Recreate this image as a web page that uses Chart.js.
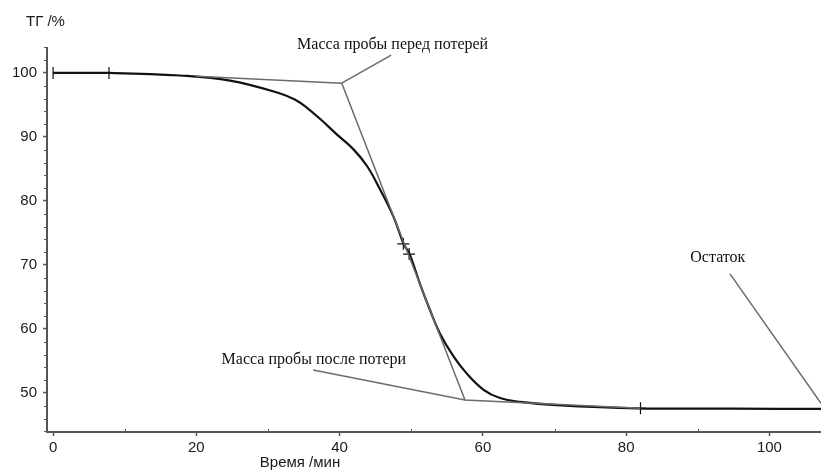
<!DOCTYPE html>
<html>
<head>
<meta charset="utf-8">
<script src="https://cdn.jsdelivr.net/npm/chart.js@4.4.1/dist/chart.umd.min.js"></script>
<style>
  html, body { margin: 0; padding: 0; background: #fff; }
</style>
</head>
<body>
<canvas id="tg" width="821" height="471"></canvas>
<script>
// TG curve: time (min) vs mass (%)
const timeMin = [0, 7.8, 17.7, 24.7, 31.7, 33.8, 35.4, 37.3, 39.6, 41.9, 43.8, 45.6, 47.5, 48.9, 49.8, 51.2, 52.6, 54.0, 55.9, 57.7, 60.1, 62.4, 65.2, 70.3, 81.5, 95, 107.2];
const massPct = [100, 100, 99.6, 98.8, 96.8, 95.8, 94.6, 92.8, 90.4, 88.1, 85.5, 81.9, 77.6, 73.4, 71.6, 67.1, 63.0, 59.3, 55.7, 53.1, 50.5, 49.2, 48.6, 48.1, 47.6, 47.55, 47.5];

// "+" markers on the curve
const markX = [0, 7.8, 48.9, 49.7, 82.0];
const markY = [100, 100, 73.3, 71.7, 47.6];

// tangent construction (grey)
const tanX = [20, 40.3, 57.5, 82];
const tanY = [99.5, 98.4, 48.9, 47.6];

// leader lines to the labels
const leadBeforeX = [40.3, 47.2], leadBeforeY = [98.4, 102.8];
const leadAfterX = [36.3, 57.5], leadAfterY = [53.6, 48.9];
const leadRestX = [94.5, 107.2], leadRestY = [68.6, 48.4];

// tick labels
const xTickVals = [0, 20, 40, 60, 80, 100];
const yTickVals = [50, 60, 70, 80, 90, 100];

function pts(xs, ys) {
  return xs.map((v, i) => ({ x: v, y: ys[i] }));
}

const extras = {
  id: 'extras',
  afterDraw(chart) {
    const { ctx, chartArea: a } = chart;
    const x = chart.scales.x, y = chart.scales.y;
    ctx.save();
    // minor ticks
    ctx.strokeStyle = '#555';
    ctx.lineWidth = 1;
    ctx.beginPath();
    for (let v = 44; v <= 104; v += 2) {
      if (v % 10 === 0) continue;
      const py = Math.round(y.getPixelForValue(v)) + 0.5;
      ctx.moveTo(a.left - 3, py);
      ctx.lineTo(a.left, py);
    }
    for (let v = 10; v <= 100; v += 20) {
      const px = Math.round(x.getPixelForValue(v)) + 0.5;
      ctx.moveTo(px, a.bottom);
      ctx.lineTo(px, a.bottom - 3);
    }
    ctx.stroke();

    // axis titles
    ctx.fillStyle = '#1a1a1a';
    ctx.font = '15px "Liberation Sans", Arial, sans-serif';
    ctx.textBaseline = 'middle';
    ctx.textAlign = 'left';
    ctx.fillText('ТГ /%', 26, 22);
    ctx.textAlign = 'center';
    ctx.fillText('Время /мин', 300, 463);

    // annotations
    ctx.fillStyle = '#111';
    ctx.font = '16px "Liberation Serif", "Times New Roman", serif';
    ctx.fillText('Масса пробы перед потерей', x.getPixelForValue(47.4), y.getPixelForValue(104.4));
    ctx.fillText('Масса пробы после потери', x.getPixelForValue(36.4), y.getPixelForValue(55.2));
    ctx.fillText('Остаток', x.getPixelForValue(92.8), y.getPixelForValue(71.1));
    ctx.restore();
  }
};

const greyLine = (data) => ({
  data: data,
  borderColor: '#6b6b6b',
  borderWidth: 1.5,
  pointRadius: 0,
  tension: 0,
  fill: false
});

new Chart(document.getElementById('tg'), {
  type: 'line',
  data: {
    datasets: [
      greyLine(pts(tanX, tanY)),
      greyLine(pts(leadBeforeX, leadBeforeY)),
      greyLine(pts(leadAfterX, leadAfterY)),
      greyLine(pts(leadRestX, leadRestY)),
      {
        data: pts(timeMin, massPct),
        borderColor: '#111',
        borderWidth: 2.2,
        pointRadius: 0,
        tension: 0.4,
        fill: false
      },
      {
        data: pts(markX, markY),
        showLine: false,
        pointStyle: ['line', 'cross', 'cross', 'cross', 'cross'],
        rotation: [90, 0, 0, 0, 0],
        pointRadius: 6,
        pointBorderColor: '#111',
        pointBorderWidth: 1.2,
        pointBackgroundColor: '#111'
      }
    ]
  },
  options: {
    responsive: false,
    animation: false,
    devicePixelRatio: 1,
    layout: { autoPadding: false, padding: { top: 48, right: 0, left: 0, bottom: 0 } },
    plugins: { legend: { display: false }, tooltip: { enabled: false } },
    scales: {
      x: {
        type: 'linear',
        min: -0.85,
        max: 107.2,
        afterFit: (s) => { s.height = 39; s.paddingLeft = 0; s.paddingRight = 0; },
        afterBuildTicks: (s) => { s.ticks = xTickVals.map(v => ({ value: v })); },
        grid: { drawOnChartArea: false, tickLength: 4, color: '#555', tickWidth: 1.5 },
        border: { color: '#555', width: 2 },
        ticks: {
          padding: 3,
          color: '#1a1a1a',
          font: { family: '"Liberation Sans", Arial, sans-serif', size: 15 },
          maxRotation: 0
        }
      },
      y: {
        min: 43.9,
        max: 103.9,
        afterFit: (s) => { s.width = 47; s.paddingTop = 0; s.paddingBottom = 0; },
        afterBuildTicks: (s) => { s.ticks = yTickVals.map(v => ({ value: v })); },
        grid: { drawOnChartArea: false, tickLength: 4, color: '#555', tickWidth: 1.5 },
        border: { color: '#555', width: 2 },
        ticks: {
          padding: 6,
          color: '#1a1a1a',
          font: { family: '"Liberation Sans", Arial, sans-serif', size: 15 }
        }
      }
    }
  },
  plugins: [extras]
});
</script>
</body>
</html>
